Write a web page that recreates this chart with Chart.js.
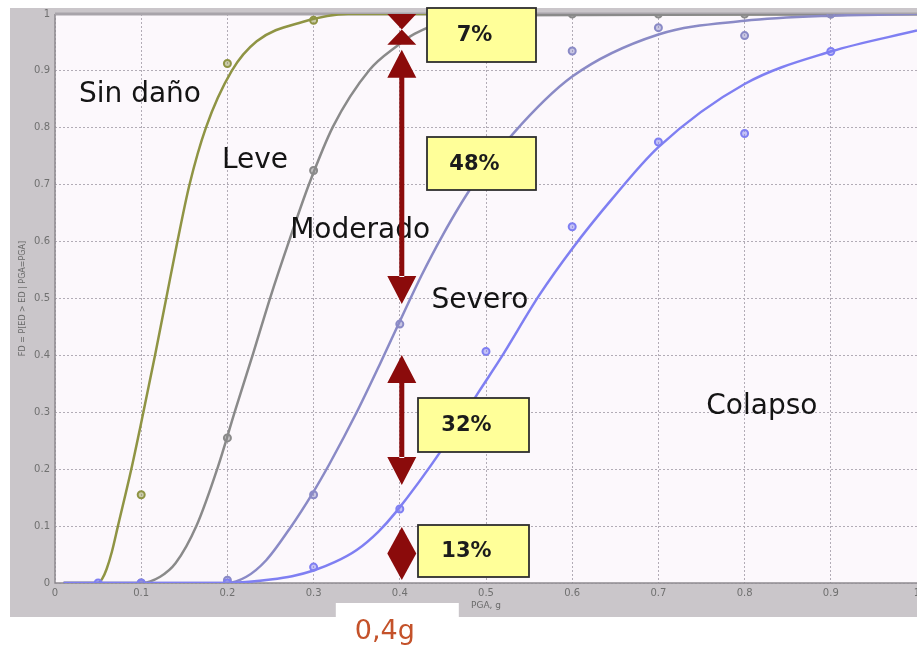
<!DOCTYPE html>
<html>
<head>
<meta charset="utf-8">
<script src="https://cdn.jsdelivr.net/npm/chart.js@4/dist/chart.umd.min.js"></script>
<style>
  html, body { margin: 0; padding: 0; background: #ffffff; overflow: hidden; }
  canvas { display: block; }
</style>
</head>
<body>
<canvas id="fragility" width="917" height="656"></canvas>
<script>
// ---- Fragility curves: P(damage state >= ds | PGA) ----
const leveCurveX = [0.01, 0.05, 0.055, 0.06, 0.066, 0.073, 0.0885, 0.1025, 0.116, 0.129, 0.142, 0.156, 0.175, 0.205, 0.234, 0.287, 0.34, 1.0];
const leveCurveY = [0, 0, 0.008, 0.025, 0.055, 0.1, 0.2, 0.3, 0.4, 0.5, 0.6, 0.7, 0.8, 0.9, 0.952, 0.986, 1.0, 1.0];

const moderadoCurveX = [0.01, 0.1, 0.122, 0.14, 0.164, 0.189, 0.2086, 0.23, 0.25, 0.272, 0.295, 0.3225, 0.365, 0.396, 0.417, 0.46, 0.52, 1.0];
const moderadoCurveY = [0, 0, 0.011, 0.035, 0.1, 0.204, 0.301, 0.404, 0.503, 0.603, 0.702, 0.802, 0.902, 0.943, 0.965, 0.99, 0.998, 1.0];

const severoCurveX = [0.01, 0.199, 0.222, 0.245, 0.272, 0.2993, 0.3187, 0.35, 0.377, 0.40, 0.425, 0.45, 0.483, 0.531, 0.6, 0.7, 0.8, 0.9, 1.0];
const severoCurveY = [0, 0, 0.011, 0.04, 0.095, 0.159, 0.21, 0.30, 0.385, 0.46, 0.54, 0.612, 0.695, 0.789, 0.89, 0.964, 0.988, 0.997, 1.0];

const colapsoCurveX = [0.01, 0.2, 0.225, 0.25, 0.275, 0.3, 0.325, 0.35, 0.375, 0.3957, 0.4502, 0.4927, 0.5158, 0.5622, 0.6, 0.6463, 0.7, 0.8, 0.9, 1.0];
const colapsoCurveY = [0, 0, 0.002, 0.006, 0.012, 0.022, 0.037, 0.058, 0.09, 0.125, 0.2375, 0.3385, 0.392, 0.5067, 0.5875, 0.675, 0.766, 0.877, 0.934, 0.971];

// ---- Observed exceedance fractions ----
const leveObsX = [0.1, 0.2, 0.3, 0.4];
const leveObsY = [0.155, 0.913, 0.989, 1.0];

const moderadoObsX = [0.1, 0.2, 0.3, 0.6, 0.7, 0.8, 0.9];
const moderadoObsY = [0, 0.255, 0.725, 1.0, 1.0, 1.0, 1.0];

const severoObsX = [0.2, 0.3, 0.4, 0.6, 0.7, 0.8, 0.9];
const severoObsY = [0.005, 0.155, 0.455, 0.935, 0.976, 0.962, 1.0];

const colapsoObsX = [0.05, 0.1, 0.2, 0.3, 0.4, 0.5, 0.6, 0.7, 0.8, 0.9];
const colapsoObsY = [0, 0, 0, 0.028, 0.13, 0.407, 0.626, 0.775, 0.79, 0.934];

// ---- Axis ticks ----
const pgaTicks = [0, 0.1, 0.2, 0.3, 0.4, 0.5, 0.6, 0.7, 0.8, 0.9, 1];
const probTicks = [0, 0.1, 0.2, 0.3, 0.4, 0.5, 0.6, 0.7, 0.8, 0.9, 1];

// ---- Damage states and their probabilities at the design PGA ----
const stateNames = ['Sin daño', 'Leve', 'Moderado', 'Severo', 'Colapso'];
const designPga = 0.4;
const designPgaLabel = '0,4g';
const statePct = [7, 48, 32, 13];

const xTitle = 'PGA, g';
const yTitle = 'FD = P[ED > ED | PGA=PGA]';

// ------------------------------------------------------------------
const OLIVE = '#8f9444';
const GREY = '#8a8a8a';
const PURPLE = '#8a8ac6';
const BLUE = '#7f7ff2';
const ARROW = '#8b0b0b';
const FONT = '"DejaVu Sans", Verdana, sans-serif';

const toPts = (xs, ys) => xs.map((x, i) => ({ x, y: ys[i] }));
const fade = (hex, a) => {
  const n = parseInt(hex.slice(1), 16);
  return `rgba(${(n >> 16) & 255},${(n >> 8) & 255},${n & 255},${a})`;
};

function curve(label, xs, ys, color, order) {
  return {
    label, data: toPts(xs, ys), borderColor: color, borderWidth: 2.5,
    pointRadius: 0, cubicInterpolationMode: 'monotone', fill: false, order
  };
}
function observed(label, xs, ys, color, order) {
  return {
    label, data: toPts(xs, ys), showLine: false, pointRadius: 3.5,
    pointBorderWidth: 2, pointBorderColor: color,
    pointBackgroundColor: fade(color, 0.45), borderColor: color, order
  };
}

// where each region name sits (data coordinates)
const nameSpots = [
  [0.0986, 0.859], [0.232, 0.742], [0.354, 0.619], [0.493, 0.496], [0.820, 0.309]
];
// boxes holding the percentages (pixels) and arrow end insets (pixels)
const boxRects = [[427, 8, 109, 54], [427, 137, 109, 53], [418, 398, 111, 54], [418, 525, 111, 52]];
const arrowInsets = [[0, 9], [-4, 23], [28, 24], [18, 3]];
const HEAD = 28, HALF_W = 14.5, SHAFT = 5;

const decorations = {
  id: 'decorations',
  beforeDraw(chart) {
    const { ctx, chartArea: a } = chart;
    ctx.save();
    ctx.fillStyle = '#ffffff';
    ctx.fillRect(0, 0, chart.width, chart.height);
    ctx.fillStyle = '#cac6ca';
    ctx.fillRect(10, 8, chart.width - 10, 609);
    ctx.fillStyle = '#fcf8fc';
    ctx.fillRect(a.left, a.top, a.right - a.left, a.bottom - a.top);
    // white tab under the design PGA
    const xs = chart.scales.x;
    const cx = xs.getPixelForValue(designPga);
    ctx.fillStyle = '#ffffff';
    ctx.fillRect(cx - 64, 603, 123, chart.height - 603);
    ctx.restore();
  },
  beforeDatasetsDraw(chart) {
    const { ctx, chartArea: a } = chart;
    ctx.save();
    ctx.strokeStyle = '#8e8a90';
    ctx.lineWidth = 1.5;
    ctx.beginPath();
    ctx.moveTo(a.left, a.top); ctx.lineTo(a.left, a.bottom); ctx.lineTo(a.right, a.bottom);
    ctx.stroke();
    ctx.strokeStyle = '#a8a4aa';
    ctx.lineWidth = 3;
    ctx.beginPath();
    ctx.moveTo(a.left, a.top); ctx.lineTo(a.right, a.top);
    ctx.stroke();
    ctx.restore();
  },
  afterDraw(chart) {
    const { ctx } = chart;
    const xs = chart.scales.x, ys = chart.scales.y;
    ctx.save();

    // region names
    ctx.fillStyle = '#141414';
    ctx.font = `28px ${FONT}`;
    ctx.textAlign = 'center';
    ctx.textBaseline = 'middle';
    stateNames.forEach((name, i) => {
      ctx.fillText(name, xs.getPixelForValue(nameSpots[i][0]), ys.getPixelForValue(nameSpots[i][1]));
    });

    // arrows spanning each state's probability at the design PGA
    const cx = xs.getPixelForValue(designPga) + 2;
    ctx.fillStyle = ARROW;
    let upper = 1.0;
    statePct.forEach((p, i) => {
      const lower = upper - p / 100;
      const yTop = ys.getPixelForValue(upper) + arrowInsets[i][0];
      const yBot = ys.getPixelForValue(lower) - arrowInsets[i][1];
      const span = yBot - yTop;
      const mid = (yTop + yBot) / 2;
      ctx.beginPath();
      if (span < 2 * HEAD * 0.6) {
        // heads meeting tip to tip
        ctx.moveTo(cx - HALF_W, yTop); ctx.lineTo(cx + HALF_W, yTop); ctx.lineTo(cx, mid); ctx.closePath();
        ctx.moveTo(cx - HALF_W, yBot); ctx.lineTo(cx + HALF_W, yBot); ctx.lineTo(cx, mid); ctx.closePath();
      } else if (span <= 2 * HEAD) {
        // heads back to back
        ctx.moveTo(cx, yTop); ctx.lineTo(cx + HALF_W, mid); ctx.lineTo(cx, yBot); ctx.lineTo(cx - HALF_W, mid); ctx.closePath();
      } else {
        ctx.moveTo(cx, yTop); ctx.lineTo(cx + HALF_W, yTop + HEAD); ctx.lineTo(cx - HALF_W, yTop + HEAD); ctx.closePath();
        ctx.moveTo(cx, yBot); ctx.lineTo(cx + HALF_W, yBot - HEAD); ctx.lineTo(cx - HALF_W, yBot - HEAD); ctx.closePath();
        ctx.rect(cx - SHAFT / 2, yTop + HEAD - 1, SHAFT, span - 2 * HEAD + 2);
      }
      ctx.fill();
      upper = lower;
    });

    // percentage boxes
    ctx.font = `bold 21px ${FONT}`;
    statePct.forEach((p, i) => {
      const [bx, by, bw, bh] = boxRects[i];
      ctx.fillStyle = '#ffff99';
      ctx.fillRect(bx, by, bw, bh);
      ctx.strokeStyle = '#2e2e2e';
      ctx.lineWidth = 1.8;
      ctx.strokeRect(bx, by, bw, bh);
      ctx.fillStyle = '#1c1c1c';
      ctx.fillText(`${p}%`, bx + bw / 2 - 7, by + bh / 2 + 1);
    });

    // design PGA label
    ctx.fillStyle = '#c4522a';
    ctx.font = `27px ${FONT}`;
    ctx.fillText(designPgaLabel, xs.getPixelForValue(designPga) - 15, 632);
    ctx.restore();
  }
};

const gridStyle = { color: '#b2acb6', lineWidth: 1, drawTicks: false };
const borderStyle = { display: false, dash: [2, 2] };

new Chart(document.getElementById('fragility'), {
  type: 'line',
  data: {
    datasets: [
      curve('Colapso', colapsoCurveX, colapsoCurveY, BLUE, 1),
      curve('Severo', severoCurveX, severoCurveY, PURPLE, 2),
      curve('Moderado', moderadoCurveX, moderadoCurveY, GREY, 3),
      curve('Leve', leveCurveX, leveCurveY, OLIVE, 4),
      observed('Colapso obs.', colapsoObsX, colapsoObsY, BLUE, 0),
      observed('Severo obs.', severoObsX, severoObsY, PURPLE, 0),
      observed('Moderado obs.', moderadoObsX, moderadoObsY, GREY, 0),
      observed('Leve obs.', leveObsX, leveObsY, OLIVE, 0)
    ]
  },
  options: {
    responsive: false,
    animation: false,
    devicePixelRatio: 1,
    layout: { autoPadding: false, padding: { top: 14, left: 0, right: 0, bottom: 0 } },
    plugins: { legend: { display: false }, tooltip: { enabled: false } },
    scales: {
      x: {
        type: 'linear', min: 0, max: 1,
        grid: gridStyle, border: borderStyle,
        afterBuildTicks: s => { s.ticks = pgaTicks.map(v => ({ value: v })); },
        afterFit: s => { s.height = 73; s.paddingLeft = 0; s.paddingRight = 0; },
        ticks: {
          autoSkip: false, maxRotation: 0, padding: 4, color: '#707070',
          font: { family: FONT, size: 10 },
          callback: v => String(v)
        },
        title: { display: true, text: xTitle, color: '#6a6a6a', font: { family: FONT, size: 9 }, padding: { top: 0, bottom: 45 } }
      },
      y: {
        type: 'linear', min: 0, max: 1,
        grid: gridStyle, border: borderStyle,
        afterBuildTicks: s => { s.ticks = probTicks.map(v => ({ value: v })); },
        afterFit: s => { s.width = 55; s.paddingTop = 0; s.paddingBottom = 0; },
        ticks: {
          autoSkip: false, padding: 5, color: '#707070',
          font: { family: FONT, size: 10 },
          callback: v => String(v)
        },
        title: { display: true, text: yTitle, color: '#6a6a6a', font: { family: FONT, size: 8 }, padding: { top: 18, bottom: 0 } }
      }
    }
  },
  plugins: [decorations]
});
</script>
</body>
</html>
